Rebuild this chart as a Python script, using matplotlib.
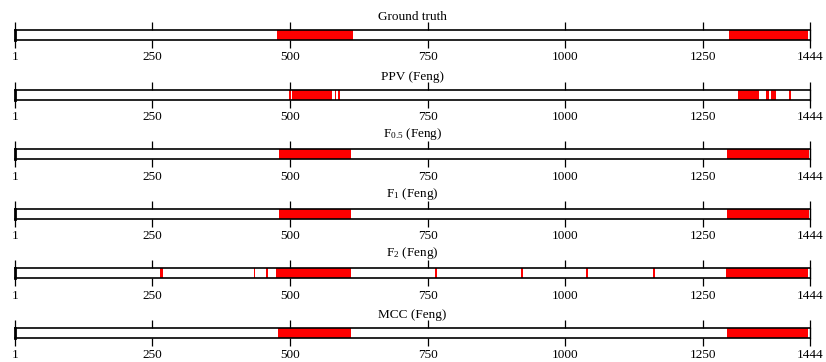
import matplotlib
matplotlib.use("Agg")
import matplotlib.pyplot as plt

plt.rcParams["font.family"] = ["Liberation Serif", "DejaVu Serif"]
plt.rcParams["mathtext.fontset"] = "custom"
plt.rcParams["mathtext.rm"] = "Liberation Serif"
plt.rcParams["mathtext.it"] = "Liberation Serif:italic"

# Sequence range and tick positions
seq_start = 1
seq_end = 1444
tick_values = [1, 250, 500, 750, 1000, 1250, 1444]

# Panel titles
titles = [
    "Ground truth",
    "PPV (Feng)",
    r"F$_{0.5}$ (Feng)",
    r"F$_{1}$ (Feng)",
    r"F$_{2}$ (Feng)",
    "MCC (Feng)",
]

# Marked segments per panel (start, end) in residue positions
ground_truth = [(476, 614), (1297, 1441)]
ppv_feng = [(499, 502), (504, 577), (581, 584), (587, 590),
            (1314, 1351), (1365, 1369), (1374, 1383), (1405, 1409)]
f05_feng = [(480, 611), (1294, 1442)]
f1_feng = [(480, 611), (1294, 1442)]
f2_feng = [(265, 269), (434, 437), (456, 460), (475, 611), (763, 767),
           (919, 923), (1037, 1041), (1159, 1163), (1291, 1441)]
mcc_feng = [(478, 611), (1293, 1441)]

segments = [ground_truth, ppv_feng, f05_feng, f1_feng, f2_feng, mcc_feng]

W, H = 826, 362
fig = plt.figure(figsize=(W / 100, H / 100), dpi=100)

left_px, right_px = 15, 810
bar_h_px = 10
first_top_px = 30
row_step_px = 59.6

for i, (title, segs) in enumerate(zip(titles, segments)):
    top = first_top_px + row_step_px * i
    ax = fig.add_axes([left_px / W, 1 - (top + bar_h_px) / H,
                       (right_px - left_px) / W, bar_h_px / H])
    ax.broken_barh([(s, e - s) for s, e in segs], (0, 1),
                   facecolors="#ff0000", edgecolor="none")
    ax.set_xlim(seq_start, seq_end)
    ax.set_ylim(0, 1)
    ax.set_yticks([])
    ax.set_xticks(tick_values)
    ax.set_xticklabels([str(v) for v in tick_values])
    ax.tick_params(axis="x", direction="out", length=6, width=0.9,
                   top=True, bottom=True, labelsize=9.5, pad=2.2,
                   color="black")
    for side in ("top", "bottom"):
        ax.spines[side].set_linewidth(1.2)
    ax.spines["left"].set_linewidth(2.0)
    ax.spines["right"].set_linewidth(1.0)
    ax.text(0.5, 1.0 + 7 / bar_h_px, title, transform=ax.transAxes,
            ha="center", va="bottom", fontsize=9.5)

fig.savefig("out.png", dpi=100)
